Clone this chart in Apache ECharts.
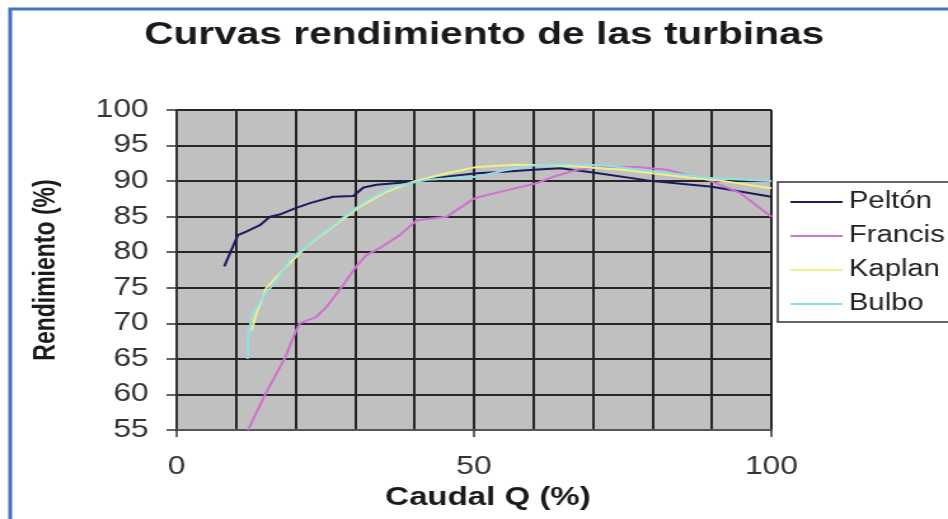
<!DOCTYPE html>
<html>
<head>
<meta charset="utf-8">
<script src="https://cdn.jsdelivr.net/npm/echarts@6/dist/echarts.min.js"></script>
<style>
  html, body { margin: 0; padding: 0; background: #fff; overflow: hidden; }
  /* the reference is a horizontally stretched screenshot, so draw narrow and stretch */
  #chart { width: 746px; height: 519px; transform: scaleX(1.2708); transform-origin: 0 0; }
</style>
</head>
<body>
<div id="chart"></div>
<script>
const seriesNames = ["Peltón", "Francis", "Kaplan", "Bulbo"];

// [caudal %, rendimiento %]
const pelton = [[8, 78], [10.3, 82.4], [11.7, 82.9], [14, 83.8], [15.7, 85], [17.3, 85.3], [20, 86.2],
  [22.4, 86.9], [26.3, 87.8], [29.7, 87.9], [31.4, 89.1], [33.6, 89.5], [39.7, 89.9], [46, 90.7],
  [50.5, 91.1], [55, 91.3], [60, 91.6], [64.5, 91.8], [70, 91.2], [80, 90], [90, 89.2], [100, 87.8]];

const francis = [[12, 55], [15, 60.2], [18.2, 65.1], [20.1, 69], [20.7, 70], [23.5, 70.9], [25.2, 72.3],
  [28, 75.4], [30.2, 78], [31.9, 79.6], [34.2, 80.6], [37.5, 82.4], [40.4, 84.5], [45.4, 85],
  [49.9, 87.5], [51, 87.8], [56, 88.8], [60.5, 89.7], [63.3, 90.6], [67.3, 91.6], [71.7, 92],
  [77.4, 92], [82.4, 91.6], [89.2, 90.2], [94.8, 88.3], [100, 85]];

const kaplan = [[12.6, 69], [13.4, 71.4], [15.1, 75], [18.5, 78], [21.8, 80.8], [26.3, 83.6],
  [30.8, 86.4], [35.3, 88.5], [39.7, 89.9], [45.4, 91.1], [50.5, 92], [57, 92.3], [65, 92.2],
  [75, 91.6], [85, 90.6], [92, 90], [100, 89]];

const bulbo = [[11.9, 65], [12, 68.3], [12.8, 71.4], [14.5, 73.7], [17.3, 76.6], [19, 78.9],
  [22.4, 81.3], [27.4, 84.5], [31.9, 87.3], [36.4, 89.2], [42, 90.2], [50.5, 90.6], [55, 91.5],
  [60, 92.2], [65, 92.4], [72, 92.2], [81.3, 91.3], [90.2, 90.4], [100, 90]];

const colors = ["#1c1c5c", "#d070d0", "#f0f088", "#8fe0e6"];
const FONT = "Liberation Sans";

const chart = echarts.init(document.getElementById("chart"), null, { renderer: "canvas" });

const allData = [pelton, francis, kaplan, bulbo];

chart.setOption({
  animation: false,
  backgroundColor: "#ffffff",
  color: colors,
  title: {
    text: "Curvas rendimiento de las turbinas",
    left: 376,
    textAlign: "center",
    top: 14,
    textStyle: { fontFamily: FONT, fontSize: 32, fontWeight: "bold", color: "#1a1a1a" },
  },
  graphic: [
    {
      type: "rect",
      shape: { x: 8, y: 9, width: 800, height: 560 },
      style: { fill: "none", stroke: "#4472c4", lineWidth: 3 },
      z: 100,
    },
  ],
  legend: {
    orient: "vertical",
    left: 612,
    top: 182,
    data: seriesNames,
    icon: "rect",
    itemWidth: 41,
    itemHeight: 2,
    itemGap: 10,
    padding: [8, 40, 6, 10],
    borderColor: "#333",
    borderWidth: 1.5,
    backgroundColor: "#fff",
    textStyle: { fontFamily: FONT, fontSize: 23, color: "#222", lineHeight: 24 },
  },
  grid: {
    left: 139,
    right: 139,
    top: 110,
    bottom: 89,
    show: true,
    backgroundColor: "#c0c0c0",
    borderColor: "#888",
    borderWidth: 1,
  },
  xAxis: {
    type: "value",
    min: 0,
    max: 100,
    interval: 50,
    name: "Caudal Q (%)",
    nameLocation: "middle",
    nameGap: 54,
    nameTextStyle: { fontFamily: FONT, fontSize: 26, fontWeight: "bold", color: "#1a1a1a", padding: [0, 0, 0, 22] },
    axisLine: { show: true, onZero: false, lineStyle: { color: "#555", width: 2 } },
    axisTick: { show: true, length: 7, lineStyle: { color: "#333", width: 1.5 } },
    axisLabel: { fontFamily: FONT, fontSize: 25, color: "#333", margin: 25 },
    splitLine: { show: true, lineStyle: { color: "#262626", width: 2 } },
    minorTick: { show: false, splitNumber: 5 },
    minorSplitLine: { show: true, lineStyle: { color: "#262626", width: 2 } },
  },
  yAxis: {
    type: "value",
    min: 55,
    max: 100,
    interval: 5,
    name: "Rendimiento (%)",
    nameLocation: "middle",
    nameRotate: 90,
    nameGap: 91,
    nameTextStyle: { fontFamily: FONT, fontSize: 23, fontWeight: "bold", color: "#1a1a1a" },
    axisLine: { show: true, lineStyle: { color: "#333", width: 2 } },
    axisTick: { show: true, length: 8, lineStyle: { color: "#333", width: 1.5 } },
    axisLabel: { fontFamily: FONT, fontSize: 25, color: "#333", margin: 22 },
    splitLine: { show: true, lineStyle: { color: "#262626", width: 2 } },
  },
  series: seriesNames.map((name, i) => ({
    name: name,
    type: "line",
    data: allData[i],
    showSymbol: false,
    symbol: "none",
    lineStyle: { width: 2, color: colors[i] },
    z: 3 + i,
  })),
});
</script>
</body>
</html>
